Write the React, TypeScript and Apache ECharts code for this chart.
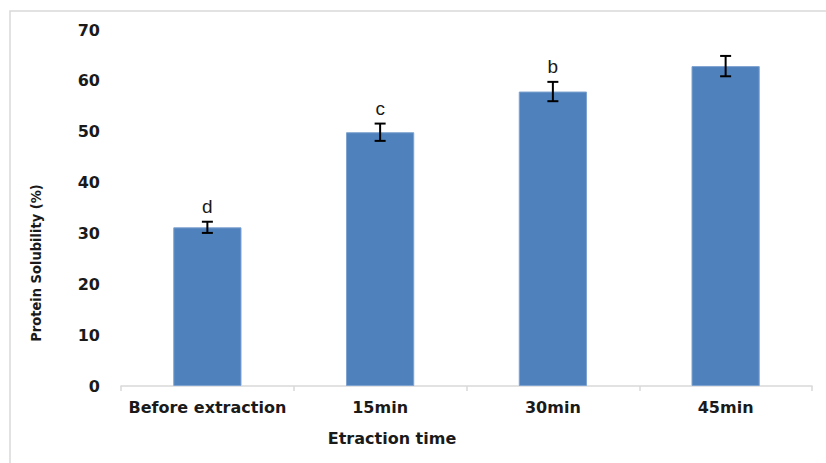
import React, { useEffect, useRef } from "react";
import * as echarts from "echarts";

const categories = ["Before extraction", "15min", "30min", "45min"];
const values = [31.2, 49.9, 57.9, 62.9];
const errors = [1.1, 1.7, 1.9, 2.0];
const letters = ["d", "c", "b", ""];
const yTicks = [0, 10, 20, 30, 40, 50, 60, 70];

export default function App() {
  const ref = useRef<HTMLDivElement>(null);
  useEffect(() => {
    document.body.style.margin = "0";
    if (!ref.current) return;
    const chart = echarts.init(ref.current, null, { renderer: "svg" });
    const bold = "DejaVu Sans";
    chart.setOption({
      animation: false,
      backgroundColor: "#ffffff",
      grid: { left: 121, right: 14, top: 30, bottom: 77 },
      xAxis: {
        type: "category",
        data: categories,
        boundaryGap: true,
        axisLine: { show: true, lineStyle: { color: "#d9d9d9", width: 1.5 } },
        axisTick: { show: true, length: 5, lineStyle: { color: "#d9d9d9", width: 1.5 } },
        axisLabel: {
          interval: 0,
          margin: 13,
          color: "#1a1a1a",
          fontFamily: bold,
          fontWeight: "bold",
          fontSize: 16,
        },
      },
      yAxis: {
        type: "value",
        min: yTicks[0],
        max: yTicks[yTicks.length - 1],
        interval: 10,
        axisLine: { show: false },
        axisTick: { show: false },
        splitLine: { show: false },
        axisLabel: {
          margin: 21,
          color: "#1a1a1a",
          fontFamily: bold,
          fontWeight: "bold",
          fontSize: 16,
        },
      },
      series: [
        {
          type: "bar",
          data: values,
          barWidth: "39.5%",
          itemStyle: { color: "#4f81bd", borderColor: "#7fa3d0", borderWidth: 1 },
        },
        {
          type: "custom",
          data: values.map((v, i) => [i, v, errors[i]]),
          z: 10,
          renderItem: (params: any, api: any) => {
            const i = api.value(0);
            const v = api.value(1);
            const e = api.value(2);
            const top = api.coord([i, v + e]);
            const bot = api.coord([i, v - e]);
            const x = top[0];
            const hw = 5.5;
            const children: any[] = [
              { type: "line", shape: { x1: x, y1: top[1], x2: x, y2: bot[1] }, style: { stroke: "#000", lineWidth: 2 } },
              { type: "line", shape: { x1: x - hw, y1: top[1], x2: x + hw, y2: top[1] }, style: { stroke: "#000", lineWidth: 2 } },
              { type: "line", shape: { x1: x - hw, y1: bot[1], x2: x + hw, y2: bot[1] }, style: { stroke: "#000", lineWidth: 2 } },
            ];
            const letter = letters[params.dataIndex];
            if (letter) {
              children.push({
                type: "text",
                style: {
                  text: letter,
                  x: x,
                  y: top[1] - 6,
                  textAlign: "center",
                  textVerticalAlign: "bottom",
                  fontFamily: "Liberation Sans",
                  fontSize: 19,
                  fill: "#1a1a1a",
                },
              });
            }
            return { type: "group", children };
          },
        },
      ],
      graphic: [
        {
          type: "rect",
          shape: { x: 10, y: 11, width: 840, height: 480 },
          style: { fill: "none", stroke: "#d9d9d9", lineWidth: 1.5 },
          silent: true,
        },
        {
          type: "text",
          x: 36,
          y: 263,
          rotation: Math.PI / 2,
          style: {
            text: "Protein Solubility (%)",
            textAlign: "center",
            textVerticalAlign: "middle",
            fontFamily: "DejaVu Sans Condensed",
            fontWeight: "bold",
            fontSize: 14.5,
            fill: "#1a1a1a",
          },
        },
        {
          type: "text",
          x: 392,
          y: 438,
          style: {
            text: "Etraction time",
            textAlign: "center",
            textVerticalAlign: "middle",
            fontFamily: bold,
            fontWeight: "bold",
            fontSize: 16,
            fill: "#1a1a1a",
          },
        },
      ],
    });
    return () => chart.dispose();
  }, []);
  return <div ref={ref} style={{ width: 826, height: 463 }} />;
}
